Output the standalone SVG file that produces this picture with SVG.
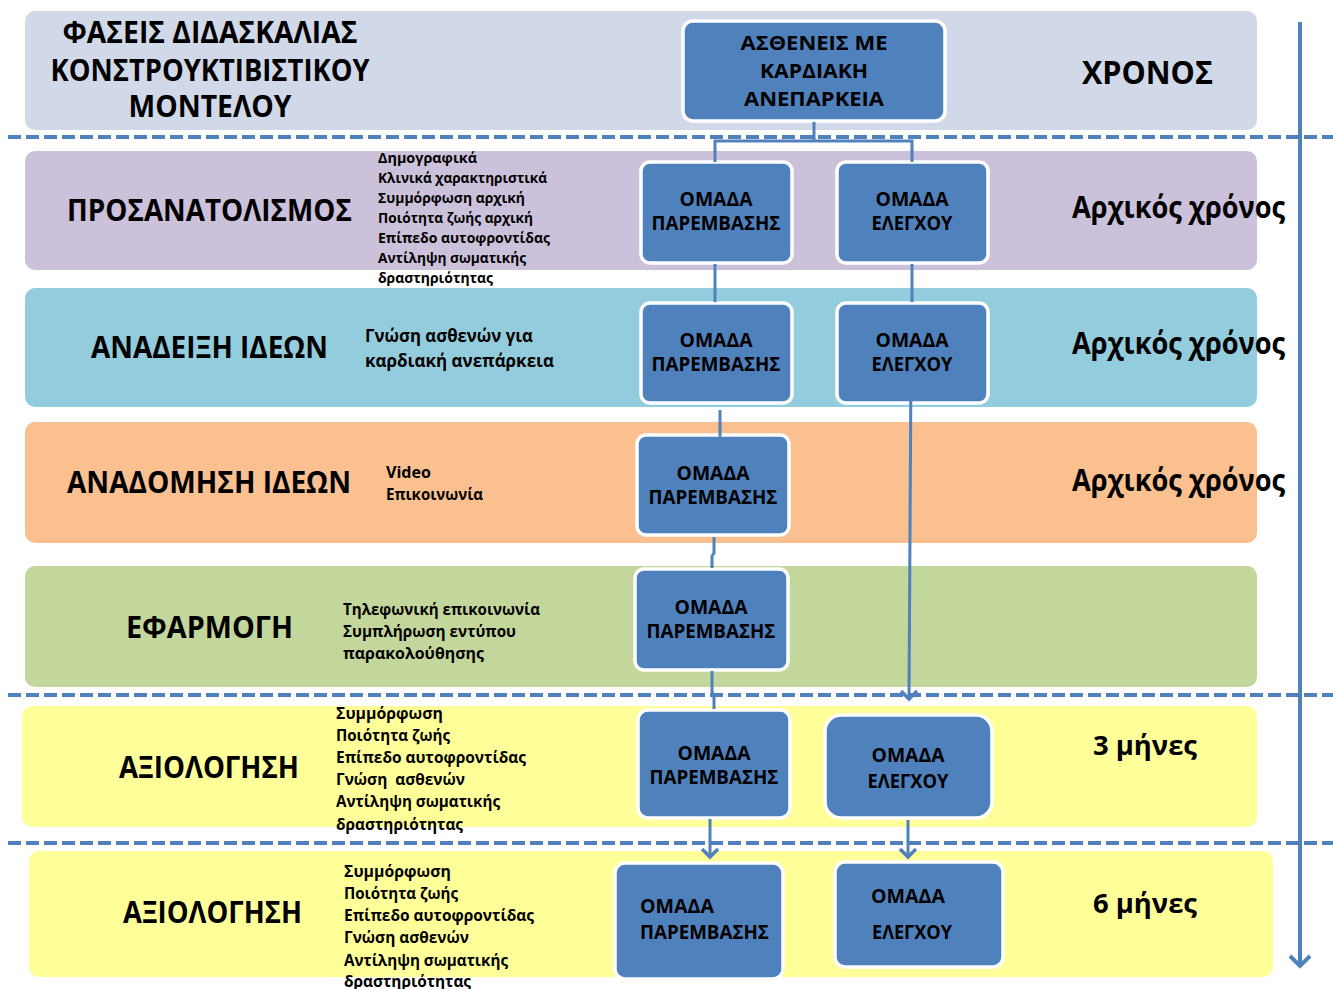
<svg xmlns="http://www.w3.org/2000/svg" width="1333" height="989" viewBox="0 0 1333 989">
<style>
text{font-family:"Open Sans","Noto Sans","DejaVu Sans",sans-serif;font-weight:700;fill:#000}
.big{font-size:30px}
.box{fill:#4F81BD;stroke:#fff;stroke-width:3.5}
.bt{font-size:19.5px;text-anchor:middle}
.lst{font-size:14px}
.md{font-size:16px}
.con{fill:none;stroke:#4F81BD;stroke-width:3}
.dash{stroke:#4F81BD;stroke-width:4;stroke-dasharray:13 5}
</style>
<defs>
<marker id="ah" markerUnits="userSpaceOnUse" markerWidth="24" markerHeight="24" viewBox="-12 -12 24 24" refX="0" refY="0" orient="auto">
<path d="M-8,-8 L0,0 L-8,8" fill="none" stroke="#4F81BD" stroke-width="3.5"/>
</marker>
<marker id="ahb" markerUnits="userSpaceOnUse" markerWidth="30" markerHeight="30" viewBox="-15 -15 30 30" refX="0" refY="0" orient="auto">
<path d="M-10,-10 L0,0 L-10,10" fill="none" stroke="#4F81BD" stroke-width="4"/>
</marker>
</defs>
<rect width="1333" height="989" fill="#fff"/>

<g id="bands">
<rect x="25" y="11" width="1232" height="119" rx="10" fill="#D1D8E8"/>
<rect x="25" y="151" width="1232" height="119" rx="10" fill="#CCC1DA"/>
<rect x="25" y="288" width="1232" height="119" rx="10" fill="#93CDDD"/>
<rect x="25" y="422" width="1232" height="121" rx="10" fill="#FAC090"/>
<rect x="25" y="566" width="1232" height="121" rx="10" fill="#C3D69B"/>
<rect x="22" y="706" width="1235" height="121" rx="10" fill="#FFFF99"/>
<rect x="29" y="851" width="1244" height="126" rx="10" fill="#FFFF99"/>
</g>

<g id="axis">
<line class="dash" x1="8" y1="137" x2="1333" y2="137"/>
<line class="dash" x1="8" y1="695" x2="1333" y2="695"/>
<line class="dash" x1="8" y1="843" x2="1333" y2="843"/>
<line x1="1300" y1="22" x2="1300" y2="966" stroke="#4F81BD" stroke-width="4" marker-end="url(#ahb)"/>
</g>

<g id="labels">
<text class="big" x="210" y="43" text-anchor="middle" textLength="295" lengthAdjust="spacingAndGlyphs">ΦΑΣΕΙΣ ΔΙΔΑΣΚΑΛΙΑΣ</text>
<text class="big" x="210" y="81" text-anchor="middle" textLength="319" lengthAdjust="spacingAndGlyphs">ΚΟΝΣΤΡΟΥΚΤΙΒΙΣΤΙΚΟΥ</text>
<text class="big" x="210" y="117" text-anchor="middle" textLength="163" lengthAdjust="spacingAndGlyphs">ΜΟΝΤΕΛΟΥ</text>
<text x="1082" y="84" font-size="32" textLength="131" lengthAdjust="spacingAndGlyphs">ΧΡΟΝΟΣ</text>

<text class="big" x="67" y="221" textLength="285" lengthAdjust="spacingAndGlyphs">ΠΡΟΣΑΝΑΤΟΛΙΣΜΟΣ</text>
<text class="big" x="1072" y="218" textLength="213" lengthAdjust="spacingAndGlyphs">Αρχικός χρόνος</text>
<text class="lst" x="378" y="163" textLength="99" lengthAdjust="spacingAndGlyphs">Δημογραφικά</text>
<text class="lst" x="378" y="183" textLength="169" lengthAdjust="spacingAndGlyphs">Κλινικά χαρακτηριστικά</text>
<text class="lst" x="378" y="203" textLength="147" lengthAdjust="spacingAndGlyphs">Συμμόρφωση αρχική</text>
<text class="lst" x="378" y="223" textLength="155" lengthAdjust="spacingAndGlyphs">Ποιότητα ζωής αρχική</text>
<text class="lst" x="378" y="243" textLength="172" lengthAdjust="spacingAndGlyphs">Επίπεδο αυτοφροντίδας</text>
<text class="lst" x="378" y="263" textLength="148" lengthAdjust="spacingAndGlyphs">Αντίληψη σωματικής</text>
<text class="lst" x="378" y="283" textLength="115" lengthAdjust="spacingAndGlyphs">δραστηριότητας</text>

<text class="big" x="91" y="358" textLength="237" lengthAdjust="spacingAndGlyphs">ΑΝΑΔΕΙΞΗ ΙΔΕΩΝ</text>
<text x="365" y="342" font-size="17" textLength="168" lengthAdjust="spacingAndGlyphs">Γνώση ασθενών για</text>
<text x="365" y="367" font-size="17" textLength="189" lengthAdjust="spacingAndGlyphs">καρδιακή ανεπάρκεια</text>
<text class="big" x="1072" y="354" textLength="213" lengthAdjust="spacingAndGlyphs">Αρχικός χρόνος</text>

<text class="big" x="67" y="493" textLength="284" lengthAdjust="spacingAndGlyphs">ΑΝΑΔΟΜΗΣΗ ΙΔΕΩΝ</text>
<text class="md" x="386" y="478" textLength="45" lengthAdjust="spacingAndGlyphs">Video</text>
<text class="md" x="386" y="500" textLength="97" lengthAdjust="spacingAndGlyphs">Επικοινωνία</text>
<text class="big" x="1072" y="491" textLength="213" lengthAdjust="spacingAndGlyphs">Αρχικός χρόνος</text>

<text class="big" x="126" y="638" textLength="167" lengthAdjust="spacingAndGlyphs">ΕΦΑΡΜΟΓΗ</text>
<text class="md" x="343" y="615" textLength="197" lengthAdjust="spacingAndGlyphs">Τηλεφωνική επικοινωνία</text>
<text class="md" x="343" y="637" textLength="173" lengthAdjust="spacingAndGlyphs">Συμπλήρωση εντύπου</text>
<text class="md" x="343" y="659" textLength="141" lengthAdjust="spacingAndGlyphs">παρακολούθησης</text>

<text class="big" x="119" y="778" textLength="180" lengthAdjust="spacingAndGlyphs">ΑΞΙΟΛΟΓΗΣΗ</text>
<text class="md" x="336" y="719" textLength="107" lengthAdjust="spacingAndGlyphs">Συμμόρφωση</text>
<text class="md" x="336" y="741" textLength="114" lengthAdjust="spacingAndGlyphs">Ποιότητα ζωής</text>
<text class="md" x="336" y="763" textLength="190" lengthAdjust="spacingAndGlyphs">Επίπεδο αυτοφροντίδας</text>
<text class="md" x="336" y="785" textLength="129" lengthAdjust="spacingAndGlyphs" xml:space="preserve">Γνώση  ασθενών</text>
<text class="md" x="336" y="807" textLength="164" lengthAdjust="spacingAndGlyphs">Αντίληψη σωματικής</text>
<text class="md" x="336" y="830" textLength="127" lengthAdjust="spacingAndGlyphs">δραστηριότητας</text>
<text x="1093" y="755" font-size="27" textLength="104" lengthAdjust="spacingAndGlyphs">3 μήνες</text>

<text class="big" x="123" y="923" textLength="179" lengthAdjust="spacingAndGlyphs">ΑΞΙΟΛΟΓΗΣΗ</text>
<text class="md" x="344" y="877" textLength="107" lengthAdjust="spacingAndGlyphs">Συμμόρφωση</text>
<text class="md" x="344" y="899" textLength="114" lengthAdjust="spacingAndGlyphs">Ποιότητα ζωής</text>
<text class="md" x="344" y="921" textLength="190" lengthAdjust="spacingAndGlyphs">Επίπεδο αυτοφροντίδας</text>
<text class="md" x="344" y="943" textLength="125" lengthAdjust="spacingAndGlyphs">Γνώση ασθενών</text>
<text class="md" x="344" y="966" textLength="164" lengthAdjust="spacingAndGlyphs">Αντίληψη σωματικής</text>
<text class="md" x="344" y="987" textLength="127" lengthAdjust="spacingAndGlyphs">δραστηριότητας</text>
<text x="1093" y="913" font-size="27" textLength="104" lengthAdjust="spacingAndGlyphs">6 μήνες</text>
</g>

<g id="n-patients">
<rect class="box" x="683" y="21" width="262" height="100" rx="10"/>
<text class="bt" x="814" y="50" font-size="21" textLength="147" lengthAdjust="spacingAndGlyphs">ΑΣΘΕΝΕΙΣ ΜΕ</text>
<text class="bt" x="814" y="78" font-size="21" textLength="108" lengthAdjust="spacingAndGlyphs">ΚΑΡΔΙΑΚΗ</text>
<text class="bt" x="814" y="106" font-size="21" textLength="140" lengthAdjust="spacingAndGlyphs">ΑΝΕΠΑΡΚΕΙΑ</text>
</g>

<g id="n-int-1">
<rect class="box" x="641" y="162" width="151" height="101" rx="9"/>
<text class="bt" x="716" y="206" textLength="73" lengthAdjust="spacingAndGlyphs">ΟΜΑΔΑ</text>
<text class="bt" x="716" y="230" textLength="129" lengthAdjust="spacingAndGlyphs">ΠΑΡΕΜΒΑΣΗΣ</text>
</g>
<g id="n-ctl-1">
<rect class="box" x="837" y="162" width="151" height="101" rx="9"/>
<text class="bt" x="912" y="206" textLength="73" lengthAdjust="spacingAndGlyphs">ΟΜΑΔΑ</text>
<text class="bt" x="912" y="230" textLength="81" lengthAdjust="spacingAndGlyphs">ΕΛΕΓΧΟΥ</text>
</g>

<g id="n-int-2">
<rect class="box" x="641" y="303" width="151" height="100" rx="9"/>
<text class="bt" x="716" y="347" textLength="73" lengthAdjust="spacingAndGlyphs">ΟΜΑΔΑ</text>
<text class="bt" x="716" y="371" textLength="129" lengthAdjust="spacingAndGlyphs">ΠΑΡΕΜΒΑΣΗΣ</text>
</g>
<g id="n-ctl-2">
<rect class="box" x="837" y="303" width="151" height="100" rx="9"/>
<text class="bt" x="912" y="347" textLength="73" lengthAdjust="spacingAndGlyphs">ΟΜΑΔΑ</text>
<text class="bt" x="912" y="371" textLength="81" lengthAdjust="spacingAndGlyphs">ΕΛΕΓΧΟΥ</text>
</g>

<g id="n-int-3">
<rect class="box" x="637" y="435" width="152" height="100" rx="9"/>
<text class="bt" x="713" y="480" textLength="73" lengthAdjust="spacingAndGlyphs">ΟΜΑΔΑ</text>
<text class="bt" x="713" y="504" textLength="129" lengthAdjust="spacingAndGlyphs">ΠΑΡΕΜΒΑΣΗΣ</text>
</g>

<g id="n-int-4">
<rect class="box" x="635" y="569" width="153" height="101" rx="9"/>
<text class="bt" x="711" y="614" textLength="73" lengthAdjust="spacingAndGlyphs">ΟΜΑΔΑ</text>
<text class="bt" x="711" y="638" textLength="129" lengthAdjust="spacingAndGlyphs">ΠΑΡΕΜΒΑΣΗΣ</text>
</g>

<g id="n-int-5">
<rect class="box" x="638" y="710" width="152" height="108" rx="10"/>
<text class="bt" x="714" y="760" textLength="73" lengthAdjust="spacingAndGlyphs">ΟΜΑΔΑ</text>
<text class="bt" x="714" y="784" textLength="129" lengthAdjust="spacingAndGlyphs">ΠΑΡΕΜΒΑΣΗΣ</text>
</g>
<g id="n-ctl-5">
<rect class="box" x="825" y="715" width="167" height="103" rx="16"/>
<text class="bt" x="908" y="762" textLength="73" lengthAdjust="spacingAndGlyphs">ΟΜΑΔΑ</text>
<text class="bt" x="908" y="788" textLength="81" lengthAdjust="spacingAndGlyphs">ΕΛΕΓΧΟΥ</text>
</g>

<g id="n-int-6">
<rect class="box" x="615" y="863" width="168" height="116" rx="10"/>
<text class="bt" x="640" y="913" style="text-anchor:start" textLength="74" lengthAdjust="spacingAndGlyphs">ΟΜΑΔΑ</text>
<text class="bt" x="640" y="939" style="text-anchor:start" textLength="129" lengthAdjust="spacingAndGlyphs">ΠΑΡΕΜΒΑΣΗΣ</text>
</g>
<g id="n-ctl-6">
<rect class="box" x="835" y="862" width="168" height="105" rx="10"/>
<text class="bt" x="871" y="903" style="text-anchor:start" textLength="74" lengthAdjust="spacingAndGlyphs">ΟΜΑΔΑ</text>
<text class="bt" x="872" y="939" style="text-anchor:start" textLength="80" lengthAdjust="spacingAndGlyphs">ΕΛΕΓΧΟΥ</text>
</g>

<g id="connectors">
<path class="con" d="M814,122 V141 M715,162 V141 H912 V162"/>
<path class="con" d="M715,264 V302 M912,264 V302"/>
<path class="con" d="M720,410 V452"/>
<path class="con" d="M714,537 V553 L712,556 V568"/>
<path class="con" d="M712,671 V692 L714,696 V709"/>
<path class="con" d="M911,365 L909,699" stroke-width="3.5" marker-end="url(#ah)"/>
<path class="con" d="M710,819 V857" stroke-width="3.5" marker-end="url(#ah)"/>
<path class="con" d="M908,820 V857" stroke-width="3.5" marker-end="url(#ah)"/>
</g>
</svg>
